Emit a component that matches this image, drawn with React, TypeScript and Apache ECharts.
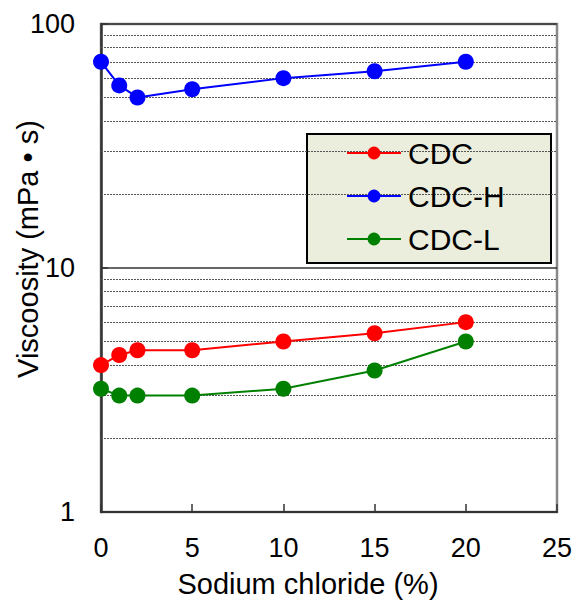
import React, { useEffect, useRef } from "react";
import * as echarts from "echarts";

const xValues = [0, 1, 2, 5, 10, 15, 20];
const cdc = [4.0, 4.4, 4.6, 4.6, 5.0, 5.4, 6.0];
const cdcH = [70, 56, 50, 54, 60, 64, 70];
const cdcL = [3.2, 3.0, 3.0, 3.0, 3.2, 3.8, 5.0];
const minorGrid = [2, 3, 4, 5, 6, 7, 8, 9, 20, 30, 40, 50, 60, 70, 80, 90];
const seriesNames = ["CDC", "CDC-H", "CDC-L"];
const colors = ["#ff0000", "#0000ff", "#008000"];
const xTitle = "Sodium chloride (%)";
const yTitle = "Viscoosity (mPa • s)";

const FONT = "'Liberation Sans', Arial, sans-serif";

export default function App() {
  const ref = useRef<HTMLDivElement>(null);
  useEffect(() => {
    if (!ref.current) return;
    const chart = echarts.init(ref.current, null, { renderer: "svg" });
    const seriesData = [cdc, cdcH, cdcL];
    const series: any[] = seriesData.map((vals, i) => ({
      name: seriesNames[i],
      type: "line",
      data: xValues.map((x, j) => [x, vals[j]]),
      symbol: "circle",
      symbolSize: 16,
      lineStyle: { width: 2, color: colors[i] },
      itemStyle: { color: colors[i] },
      z: 5,
    }));
    series.push({
      type: "line",
      data: [],
      silent: true,
      z: 1,
      markLine: {
        silent: true,
        symbol: "none",
        label: { show: false },
        lineStyle: { type: [2, 1], color: "#555", width: 1 },
        data: minorGrid.map((v) => ({ yAxis: v })),
      },
    });
    chart.setOption({
      animation: false,
      grid: {
        left: 101,
        right: 19,
        top: 24,
        bottom: 89,
        show: true,
        borderColor: "#888",
        borderWidth: 2.5,
        backgroundColor: "transparent",
      },
      xAxis: {
        type: "value",
        min: 0,
        max: 25,
        interval: 5,
        axisLine: { lineStyle: { color: "#333", width: 2 } },
        axisTick: { inside: true, length: 8, lineStyle: { color: "#333", width: 1.5 } },
        axisLabel: { fontSize: 27, color: "#000", fontFamily: FONT, margin: 22 },
        splitLine: { show: false },
      },
      yAxis: {
        type: "log",
        logBase: 10,
        min: 1,
        max: 100,
        axisLine: { show: true, lineStyle: { color: "#333", width: 2.5 } },
        axisTick: { show: true, inside: true, length: 7, lineStyle: { color: "#333", width: 1.5 } },
        axisLabel: { fontSize: 27, color: "#000", fontFamily: FONT, margin: 26 },
        splitLine: { show: true, lineStyle: { color: "#333", width: 1.5 } },
      },
      legend: {
        orient: "vertical",
        left: 346,
        top: 138,
        itemWidth: 54,
        itemHeight: 16,
        itemGap: 13,
        padding: 0,
        z: 6,
        textStyle: { fontSize: 30, color: "#000", fontFamily: FONT, padding: [0, 0, 0, 2] },
        data: seriesNames,
      },
      graphic: [
        {
          type: "rect",
          shape: { x: 307, y: 134, width: 244, height: 129 },
          style: { fill: "#ebeedd", stroke: "#000", lineWidth: 2 },
          z: 4,
        },
        {
          type: "text",
          x: 28,
          y: 249,
          rotation: Math.PI / 2,
          style: {
            text: yTitle,
            fontSize: 29,
            fontFamily: FONT,
            fill: "#000",
            align: "center",
            verticalAlign: "middle",
          },
          z: 6,
        },
        {
          type: "text",
          x: 308,
          y: 584,
          style: {
            text: xTitle,
            fontSize: 29,
            fontFamily: FONT,
            fill: "#000",
            align: "center",
            verticalAlign: "middle",
          },
          z: 6,
        },
      ],
      series,
    });
    return () => chart.dispose();
  }, []);
  return (
    <div
      ref={ref}
      style={{ position: "absolute", left: 0, top: 0, width: 576, height: 601, background: "#fff" }}
    />
  );
}
